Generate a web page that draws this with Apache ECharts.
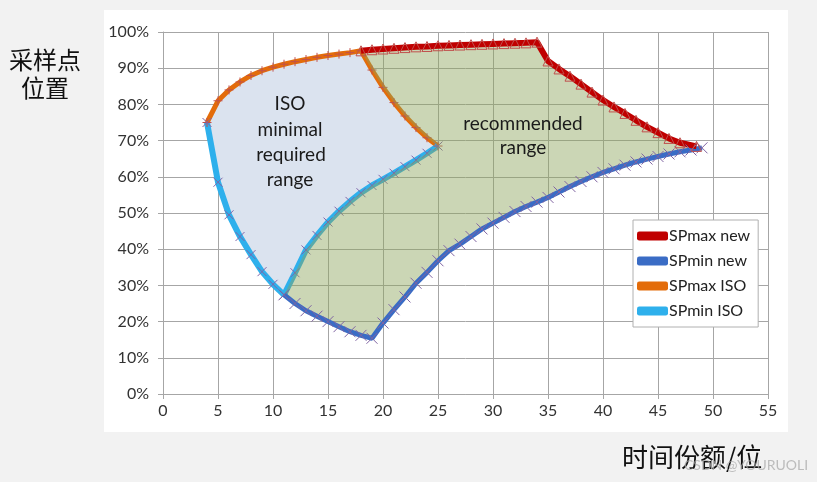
<!DOCTYPE html>
<html><head><meta charset="utf-8">
<script src="https://cdn.jsdelivr.net/npm/echarts@6/dist/echarts.min.js"></script>
<style>html,body{margin:0;padding:0;background:#f2f2f2;}#c{width:817px;height:482px;}</style>
</head><body><div id="c"></div>
<script>
const xTicks = [0,5,10,15,20,25,30,35,40,45,50,55];
const seriesNames = ['SPmax new','SPmin new','SPmax ISO','SPmin ISO'];

const spmaxIsoX = [4,5,6,7,8,9,10,11,12,13,14,15,16,17,18,19,20,21,22,23,24,25];
const spmaxIsoY = [75,81,84,86.2,88,89.3,90.3,91.1,91.8,92.4,93,93.5,93.9,94.3,94.8,89.5,84.7,80.5,76.8,73.6,70.8,68.5];

const spminIsoX = [4,5,6,7,8,9,10,11,12,13,14,15,16,17,18,19,20,21,22,23,24,25];
const spminIsoY = [75,58.5,49.5,43.5,38.5,33.8,30.3,27.4,33.5,39.8,43.8,47.5,50.5,53.2,55.6,57.6,59.3,61,62.8,64.6,66.5,68.5];

const spmaxNewX = [18,19,20,21,22,23,24,25,26,27,28,29,30,31,32,33,34,35,36,37,38,39,40,41,42,43,44,45,46,47,48.5];
const spmaxNewY = [94.8,95.1,95.3,95.5,95.7,95.9,96,96.2,96.3,96.4,96.5,96.6,96.7,96.8,96.9,97,97.2,92,89.8,87.8,85.6,83.4,81.2,79.3,77.5,75.6,73.8,72.2,70.6,69.4,68.4];

const spminNewX = [11,12,13,14,15,16,17,18,19,20,21,22,23,24,25,26,27,28,29,30,31,32,33,34,35,36,37,38,39,40,41,42,43,44,45,46,47,48,49];
const spminNewY = [27.4,25,23,21.5,20,18.6,17.2,16.2,15.4,19.6,23.3,26.8,30.6,33.6,36.8,39.6,41.4,43.5,45.6,47.2,48.8,50.4,51.8,53,54.3,55.8,57.3,58.7,60,61.2,62.2,63.2,64.1,64.9,65.6,66.3,66.9,67.4,68];

const zip = (xs, ys) => xs.map((x, i) => [x, ys[i]]);
const spmaxIso = zip(spmaxIsoX, spmaxIsoY);
const spminIso = zip(spminIsoX, spminIsoY);
const spmaxNew = zip(spmaxNewX, spmaxNewY);
const spminNew = zip(spminNewX, spminNewY);

const isoPoly = spmaxIso.concat(spminIso.slice().reverse());
const recPoly = spmaxNew
  .concat(spminNew.slice().reverse())
  .concat(spminIso.filter(p => p[0] >= 11))
  .concat(spmaxIso.filter(p => p[0] >= 18).reverse());

function polySeries(poly, fill, z) {
  return {
    type: 'custom', z: z, silent: true, data: [[0, 0]],
    renderItem: function (params, api) {
      return { type: 'polygon', shape: { points: poly.map(p => api.coord(p)) }, style: { fill: fill } };
    }
  };
}

const X_PATH = 'path://M0 0L10 10M10 0L0 10';
const PLUS_PATH = 'path://M5 0L5 10M0 5L10 5';
const font = 'Lato, "Open Sans", sans-serif';
const cjk = '"Noto Sans CJK SC", sans-serif';

function label(text, x, y) {
  return { type: 'text', z: 100, x: x, y: y, style: { text: text, fontSize: 19, fill: '#1a1a1a', fontFamily: font, align: 'center', verticalAlign: 'middle' } };
}

const chart = echarts.init(document.getElementById('c'));
chart.setOption({
  backgroundColor: '#f2f2f2',
  animation: false,
  grid: { left: 163, right: 49, top: 32, bottom: 88 },
  xAxis: {
    type: 'value', min: 0, max: 55, interval: 5,
    axisLine: { show: true, lineStyle: { color: '#a6a6a6' } },
    axisTick: { show: true, length: 5, lineStyle: { color: '#a6a6a6' } },
    splitLine: { show: true, lineStyle: { color: '#a6a6a6', width: 1 } },
    axisLabel: { color: '#333', fontSize: 16, fontFamily: font, margin: 9,
      formatter: v => xTicks.includes(v) ? String(v) : '' }
  },
  yAxis: {
    type: 'value', min: 0, max: 100, interval: 10,
    axisLine: { show: true, lineStyle: { color: '#a6a6a6' } },
    axisTick: { show: true, length: 5, lineStyle: { color: '#a6a6a6' } },
    splitLine: { show: true, lineStyle: { color: '#a6a6a6', width: 1 } },
    axisLabel: { color: '#333', fontSize: 16, fontFamily: font, margin: 14, formatter: '{value}%' }
  },
  legend: {
    orient: 'vertical', left: 633, top: 220,
    backgroundColor: '#ffffff', borderColor: '#b0b0b0', borderWidth: 1,
    padding: [8, 8, 8, 4], itemGap: 9, itemWidth: 31, itemHeight: 9,
    textStyle: { fontSize: 16, color: '#222', fontFamily: font, padding: [0, 0, 0, -4] },
    data: [
      { name: 'SPmax new', icon: 'roundRect', itemStyle: { color: '#c00000', borderWidth: 0 } },
      { name: 'SPmin new', icon: 'roundRect', itemStyle: { color: '#3a6cc5', borderWidth: 0 } },
      { name: 'SPmax ISO', icon: 'roundRect', itemStyle: { color: '#e36c0a', borderWidth: 0 } },
      { name: 'SPmin ISO', icon: 'roundRect', itemStyle: { color: '#2eb0ec', borderWidth: 0 } }
    ]
  },
  graphic: {
    elements: [
      { type: 'rect', z: -100, shape: { x: 104, y: 10, width: 684, height: 422 }, style: { fill: '#ffffff' } },
      { type: 'text', z: 100, left: 9, top: 48, style: { text: '采样点', fontSize: 24, fill: '#111', fontFamily: cjk } },
      { type: 'text', z: 100, left: 21, top: 76, style: { text: '位置', fontSize: 24, fill: '#111', fontFamily: cjk } },
      { type: 'text', z: 100, left: 622, top: 444, style: { text: '时间份额/位', fontSize: 26, fill: '#111', fontFamily: cjk } },
      { type: 'text', z: 101, left: 684, top: 458, style: { text: 'CSDN @YOURUOLI', fontSize: 14, fill: 'rgba(170,170,170,0.75)', fontFamily: font } },
      label('ISO', 290, 104),
      label('minimal', 290, 130),
      label('required', 291, 155),
      label('range', 290, 180),
      label('recommended', 523, 124),
      label('range', 523, 148)
    ]
  },
  series: [
    polySeries(isoPoly, '#dbe3ef', 1),
    {
      name: 'SPmax ISO', type: 'line', z: 2, data: spmaxIso, showAllSymbol: true,
      symbol: PLUS_PATH, symbolSize: 9,
      lineStyle: { color: '#e36c0a', width: 5 },
      itemStyle: { color: 'rgba(0,0,0,0)', borderColor: '#c0504d', borderWidth: 1 }
    },
    {
      name: 'SPmin ISO', type: 'line', z: 2, data: spminIso, showAllSymbol: true,
      symbol: X_PATH, symbolSize: 9,
      lineStyle: { color: '#2eb0ec', width: 6 },
      itemStyle: { color: 'rgba(0,0,0,0)', borderColor: '#7f63a8', borderWidth: 1 }
    },
    polySeries(recPoly, 'rgba(140,165,90,0.45)', 3),
    {
      name: 'SPmin new', type: 'line', z: 4, data: spminNew, showAllSymbol: true,
      symbol: X_PATH, symbolSize: 11,
      lineStyle: { color: '#3a6cc5', width: 5 },
      itemStyle: { color: 'rgba(0,0,0,0)', borderColor: '#8064a2', borderWidth: 1 }
    },
    {
      name: 'SPmax new', type: 'line', z: 4, data: spmaxNew, showAllSymbol: true,
      symbol: 'triangle', symbolSize: 10,
      lineStyle: { color: '#c00000', width: 6 },
      itemStyle: { color: 'rgba(0,0,0,0)', borderColor: '#c0504d', borderWidth: 1 }
    }
  ]
});
</script></body></html>
